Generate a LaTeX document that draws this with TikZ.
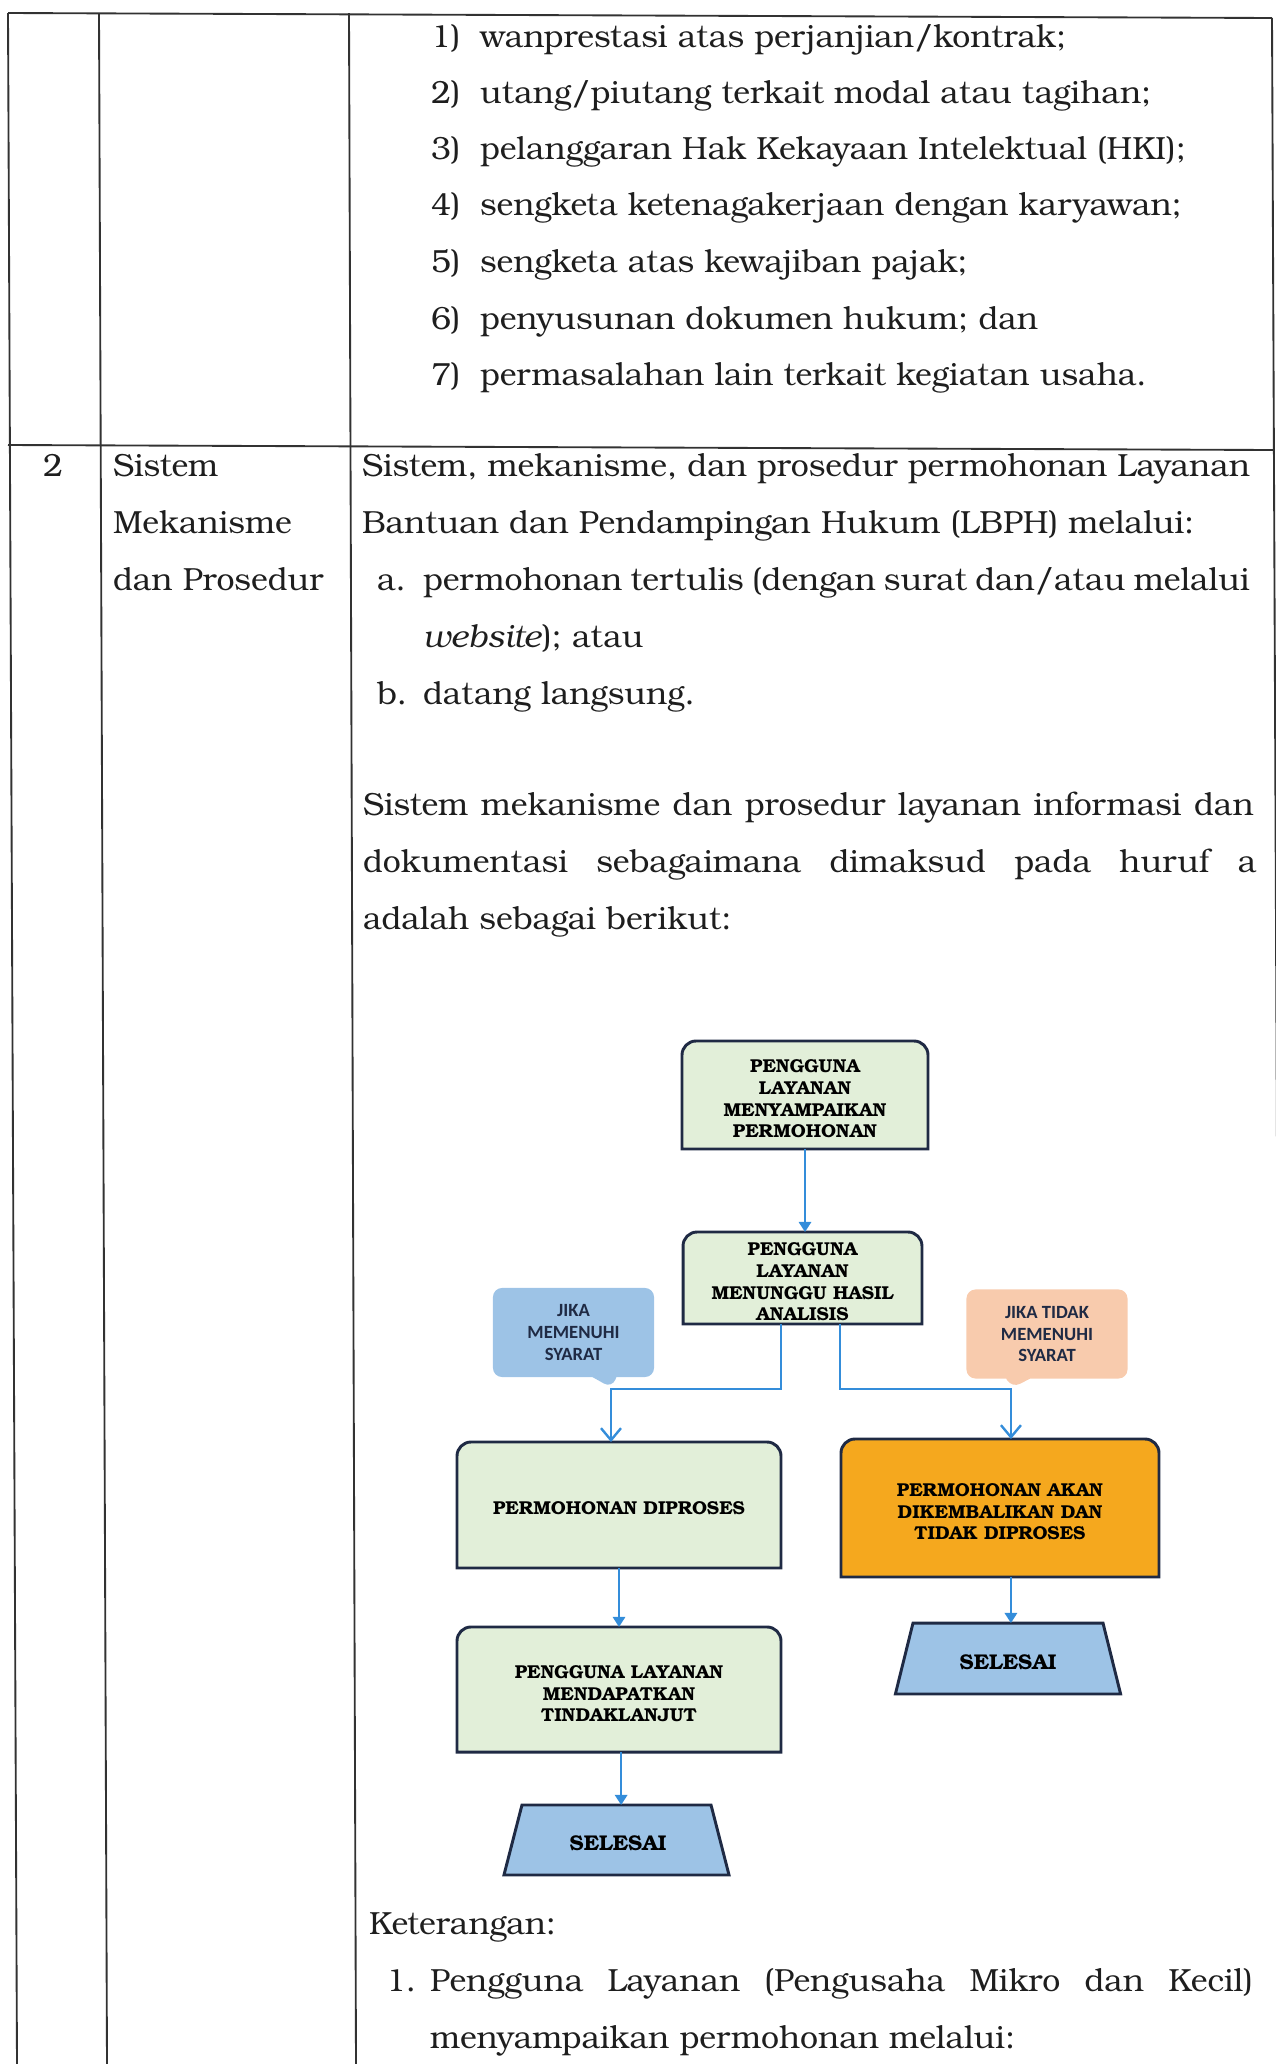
\documentclass[tikz,border=0pt]{standalone}
\usepackage{fontspec}
\setmainfont{texgyrebonum}[Extension=.otf,UprightFont=*-regular,BoldFont=*-bold,ItalicFont=*-italic,BoldItalicFont=*-bolditalic]
\newfontfamily\calfont{Carlito}
\usetikzlibrary{arrows.meta,shapes.callouts}
\pgfdeclarelayer{background}
\pgfsetlayers{background,main}
\definecolor{navy}{RGB}{31,42,68}
\definecolor{boxgreen}{RGB}{226,239,217}
\definecolor{flowblue}{RGB}{52,141,218}
\definecolor{calblue}{RGB}{157,195,230}
\definecolor{calpeach}{RGB}{248,203,173}
\definecolor{orangebox}{RGB}{245,168,30}
\definecolor{endblue}{RGB}{157,195,230}
\definecolor{rulecol}{RGB}{50,50,50}
\definecolor{ink}{RGB}{30,30,30}
\newcommand\TopRound[2]{%
  \draw[line width=1.1pt,draw=navy,fill=#2] (#1.south west) -- ([yshift=-5.25pt]#1.north west)
    arc[start angle=180,end angle=90,radius=5.25pt] -- ([xshift=-5.25pt]#1.north east)
    arc[start angle=90,end angle=0,radius=5.25pt] -- (#1.south east) -- cycle;}
\newcommand\TrapBox[2]{%
  \draw[line width=1.1pt,draw=navy,fill=endblue] (#1.north west) -- (#1.north east)
    -- ([xshift=#2]#1.south east) -- ([xshift=-#2]#1.south west) -- cycle;}
\begin{document}
\begin{tikzpicture}[x=0.375pt,y=-0.375pt,
  txt/.style={anchor=base west,inner sep=0pt,outer sep=0pt,font=\fontsize{12pt}{14pt}\selectfont,text=ink},
  tbl/.style={draw=rulecol,line width=0.7pt},
  gbox/.style={inner sep=0pt,outer sep=0pt},
  lbl/.style={inner sep=0pt,outer sep=0pt,align=center,text=black,font=\bfseries\fontsize{7pt}{8.1pt}\selectfont},
  endlbl/.style={lbl,font=\bfseries\fontsize{8pt}{9pt}\selectfont},
  callbox/.style={rectangle callout,rounded corners=3.4pt,inner sep=0pt,align=center,text=navy,
    font=\calfont\bfseries\fontsize{7pt}{8.1pt}\selectfont,callout pointer width=9pt,
    minimum width=60.4pt,minimum height=33.4pt},
  flow/.style={draw=flowblue,line width=0.9pt},
  tri/.style={-{Triangle[width=4.6pt,length=3.8pt]}},
  barb/.style={-{Straight Barb[width=7.5pt,length=4.5pt]}}]
\useasboundingbox (0,0) rectangle (1276,2064);
% table rules
\draw[tbl] (8,13) -- (1272,18);
\draw[tbl] (8,445) -- (1273,450);
\draw[tbl] (8,13) -- (17,2064);
\draw[tbl] (99,13) -- (107,2064);
\draw[tbl] (349,13) -- (356,2064);
\draw[tbl] (1272,18) -- (1281,2064);
% list 1)-7)
\node[txt] (n1) at (431,47) {1)};
\node[txt] (t1) at (480,47) {wanprestasi atas perjanjian/kontrak;};
\node[txt] (n2) at (431,103) {2)};
\node[txt] (t2) at (480,103) {utang/piutang terkait modal atau tagihan;};
\node[txt] (n3) at (431,159) {3)};
\node[txt] (t3) at (480,159) {pelanggaran Hak Kekayaan Intelektual (HKI);};
\node[txt] (n4) at (431,215) {4)};
\node[txt] (t4) at (480,215) {sengketa ketenagakerjaan dengan karyawan;};
\node[txt] (n5) at (431,272) {5)};
\node[txt] (t5) at (480,272) {sengketa atas kewajiban pajak;};
\node[txt] (n6) at (431,329) {6)};
\node[txt] (t6) at (480,329) {penyusunan dokumen hukum; dan};
\node[txt] (n7) at (431,385) {7)};
\node[txt] (t7) at (480,385) {permasalahan lain terkait kegiatan usaha.};
% row 2
\node[txt,anchor=base] (no2) at (53,476) {2};
\node[txt] (k1) at (113,476) {Sistem};
\node[txt] (k2) at (113,533) {Mekanisme};
\node[txt] (k3) at (113,590) {dan Prosedur};
\node[txt] (p1) at (362,476) {\makebox[333pt][s]{Sistem, mekanisme, dan prosedur permohonan Layanan}};
\node[txt] (p2) at (362,533) {Bantuan dan Pendampingan Hukum (LBPH) melalui:};
\node[txt] (pa) at (377,590) {a.};
\node[txt] (pat) at (423,590) {\makebox[310pt][s]{permohonan tertulis (dengan surat dan/atau melalui}};
\node[txt] (pa2) at (423,647) {\textit{website}); atau};
\node[txt] (pb) at (377,704) {b.};
\node[txt] (pbt) at (423,704) {datang langsung.};
\node[txt] (q1) at (363,815) {\makebox[334pt][s]{Sistem mekanisme dan prosedur layanan informasi dan}};
\node[txt] (q2) at (363,872) {\makebox[335pt][s]{dokumentasi sebagaimana dimaksud pada huruf a}};
\node[txt] (q3) at (363,929) {adalah sebagai berikut:};
\node[txt] (ket) at (369,1934) {Keterangan:};
\node[txt] (kn1) at (386,1991) {1.};
\node[txt] (kt1) at (430,1991) {\makebox[308.6pt][s]{Pengguna Layanan (Pengusaha Mikro dan Kecil)}};
\node[txt] (kt2) at (430,2048) {menyampaikan permohonan melalui:};
% flowchart boxes
\node[gbox,minimum width=92.25pt,minimum height=40.5pt] (b1) at (805,1095) {};
\node[gbox,minimum width=89.6pt,minimum height=34.5pt] (b2) at (802.5,1278) {};
\node[gbox,minimum width=121.5pt,minimum height=47.25pt] (b3) at (619,1505) {};
\node[gbox,minimum width=119.25pt,minimum height=51.75pt] (b4) at (1000,1508) {};
\node[gbox,minimum width=121.5pt,minimum height=46.9pt] (b5) at (619,1689.5) {};
\node[gbox,minimum width=70.9pt,minimum height=26.25pt] (s1) at (616.5,1840) {};
\node[gbox,minimum width=71.25pt,minimum height=26.6pt] (s2) at (1008,1658.5) {};
\begin{pgfonlayer}{background}
\TopRound{b1}{boxgreen}
\TopRound{b2}{boxgreen}
\TopRound{b3}{boxgreen}
\TopRound{b4}{orangebox}
\TopRound{b5}{boxgreen}
\TrapBox{s1}{6.75pt}
\TrapBox{s2}{6.6pt}
\end{pgfonlayer}
\node[lbl] (b1t) at (805,1099) {PENGGUNA\\LAYANAN\\MENYAMPAIKAN\\PERMOHONAN};
\node[lbl] (b2t) at (802.5,1282) {PENGGUNA\\LAYANAN\\MENUNGGU HASIL\\ANALISIS};
\node[lbl] (b3t) at (619,1508) {PERMOHONAN DIPROSES};
\node[lbl] (b4t) at (1000,1512) {PERMOHONAN AKAN\\DIKEMBALIKAN DAN\\TIDAK DIPROSES};
\node[lbl] (b5t) at (619,1694) {PENGGUNA LAYANAN\\MENDAPATKAN\\TINDAKLANJUT};
\node[endlbl] (s1t) at (618,1843) {SELESAI};
\node[endlbl] (s2t) at (1008,1662) {SELESAI};
% callouts
\coordinate (tip1) at (612,1388);
\coordinate (tip2) at (1012,1388);
\node[callbox,fill=calblue,callout absolute pointer=(tip1)] (c1) at (573.5,1332.5) {JIKA\\MEMENUHI\\SYARAT};
\node[callbox,fill=calpeach,callout absolute pointer=(tip2)] (c2) at (1047,1334) {JIKA TIDAK\\MEMENUHI\\SYARAT};
% connectors
\draw[flow,tri] (b1.south) -- (b1.south |- b2.north);
\draw[flow,barb] ([xshift=36.75pt]b2.south west) -- ++(0,65) -| ([xshift=-3pt]b3.north);
\draw[flow,barb] ([xshift=58.9pt]b2.south west) -- ++(0,65) -| ([xshift=4.1pt]b4.north);
\draw[flow,tri] (b3.south) -- (b5.north);
\draw[flow,tri] ([xshift=0.8pt]b5.south) -- ([xshift=0.8pt]b5.south |- s1.north);
\draw[flow,tri] ([xshift=4.1pt]b4.south) -- ([xshift=4.1pt]b4.south |- s2.north);
\end{tikzpicture}
\end{document}
